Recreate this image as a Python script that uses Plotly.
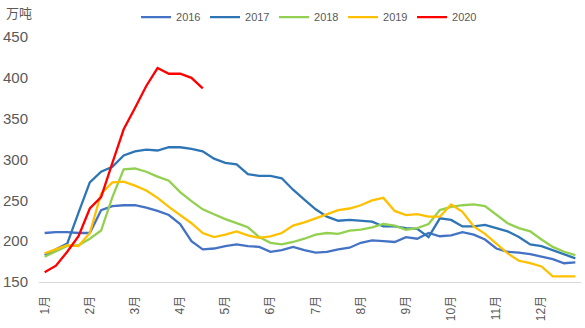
import plotly.graph_objects as go

months = ["1月", "2月", "3月", "4月", "5月", "6月", "7月", "8月", "9月", "10月", "11月", "12月"]
years = ["2016", "2017", "2018", "2019", "2020"]

s2016 = [210, 211, 211, 210, 210, 238, 243, 244, 244, 241, 237, 232, 221, 200, 190, 191,
         194, 196, 194, 193, 187, 189, 193, 189, 186, 187, 190, 192, 198, 201, 200, 199,
         205, 203, 210, 206, 207, 211, 208, 202, 191, 187, 186, 184, 181, 178, 173, 174]
s2017 = [183, 190, 197, 235, 272, 285, 291, 305, 310, 312, 311, 315, 315, 313, 310, 301,
         296, 294, 282, 280, 280, 277, 263, 251, 239, 230, 225, 226, 225, 224, 218, 218,
         216, 215, 205, 228, 226, 218, 218, 220, 216, 212, 205, 196, 194, 189, 184, 179]
s2018 = [181, 187, 194, 195, 203, 213, 254, 288, 289, 285, 279, 274, 260, 249, 239, 233,
         227, 222, 217, 205, 198, 196, 199, 203, 208, 210, 209, 213, 214, 217, 221, 219,
         214, 216, 221, 238, 242, 244, 245, 243, 232, 222, 216, 212, 202, 193, 187, 183]
s2019 = [185, 190, 195, 194, 210, 258, 272, 273, 268, 262, 253, 242, 232, 222, 210, 205,
         208, 212, 207, 204, 206, 210, 219, 223, 228, 233, 238, 240, 244, 250, 253, 237,
         232, 233, 230, 230, 245, 236, 218, 209, 197, 185, 176, 173, 169, 157, 157, 157]
s2020 = [162, 170, 187, 206, 240, 254, 296, 337, 363, 390, 412, 405, 405, 400, 387]

series = [s2016, s2017, s2018, s2019, s2020]
colors = ["#4472C4", "#2E75B6", "#92D050", "#FFC000", "#FF0000"]

PER_MONTH = 4

fig = go.Figure()
for name, vals, col in zip(years, series, colors):
    fig.add_trace(go.Scatter(
        x=list(range(len(vals))), y=vals, name=name, mode="lines",
        line=dict(color=col, width=2.3), hoverinfo="skip"))

font_family = "Liberation Sans, Noto Sans CJK SC, sans-serif"
fig.update_layout(
    width=585, height=328,
    margin=dict(l=39, r=4, t=36, b=46),
    paper_bgcolor="white", plot_bgcolor="white",
    font=dict(family=font_family, color="#595959"),
    showlegend=True,
    legend=dict(orientation="h", xref="paper", yref="paper",
                x=0.179, xanchor="left", y=1.077, yanchor="middle",
                font=dict(size=11, color="#595959"),
                entrywidth=24, entrywidthmode="pixels",
                bgcolor="rgba(0,0,0,0)"),
    xaxis=dict(range=[-0.5, 47.5],
               tickvals=[i * PER_MONTH for i in range(len(months))],
               ticktext=months, tickangle=-90,
               tickfont=dict(size=12, color="#595959"),
               showgrid=False, zeroline=False,
               showline=True, linecolor="#D9D9D9", linewidth=1,
               ticks="", ticklabelstandoff=8),
    yaxis=dict(range=[150, 450], tickvals=[150, 200, 250, 300, 350, 400, 450],
               tickfont=dict(size=15, color="#595959"),
               showgrid=False, zeroline=False, showline=False,
               ticks="", ticklabelstandoff=10),
    annotations=[dict(text="万吨", xref="paper", yref="paper",
                      x=-0.064, y=1.095, xanchor="left", yanchor="middle",
                      showarrow=False, font=dict(size=13, color="#595959"))],
)

fig.write_html("out.html")
